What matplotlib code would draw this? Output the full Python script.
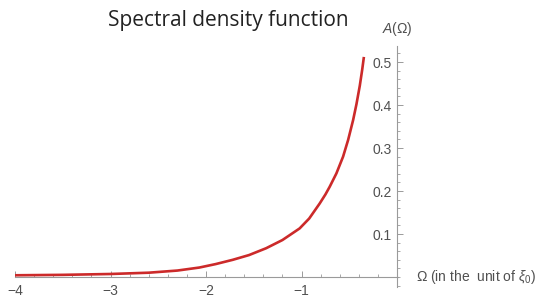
import matplotlib
matplotlib.use('Agg')
import matplotlib.pyplot as plt
from matplotlib.ticker import MultipleLocator

# values
omega = [-4.0, -3.5, -3.0, -2.6, -2.3, -2.07, -1.9, -1.72, -1.55, -1.37, -1.2, -1.02,
         -0.92, -0.81, -0.75, -0.705, -0.635, -0.565, -0.512, -0.46, -0.425, -0.39,
         -0.365, -0.347]
spec = [0.004, 0.005, 0.007, 0.010, 0.015, 0.022, 0.030, 0.040, 0.051, 0.067, 0.086, 0.113,
        0.136, 0.171, 0.192, 0.210, 0.241, 0.280, 0.319, 0.365, 0.402, 0.445,
        0.482, 0.512]

x_ticks = [-4, -3, -2, -1]
y_ticks = [0.1, 0.2, 0.3, 0.4, 0.5]

plt.rcParams['font.family'] = ['Liberation Sans', 'DejaVu Sans']
plt.rcParams['mathtext.fontset'] = 'custom'
plt.rcParams['mathtext.rm'] = 'Liberation Sans'
plt.rcParams['mathtext.it'] = 'Liberation Sans:italic'

fig = plt.figure(figsize=(5.48, 2.95), dpi=100)
ax = fig.add_axes([0.0274, 0.0275, 0.698, 0.816])

ax.plot(omega, spec, color='#cc2a2a', lw=1.9, solid_capstyle='butt',
        solid_joinstyle='round')

ax.set_xlim(-4, 0.005)
ax.set_ylim(-0.023, 0.537)

axc = '#9a9a9a'
for s in ['top', 'right']:
    ax.spines[s].set_visible(False)
ax.spines['left'].set_position(('data', 0))
ax.spines['bottom'].set_position(('data', 0))
ax.spines['left'].set_color(axc)
ax.spines['bottom'].set_color(axc)
ax.spines['left'].set_linewidth(0.8)
ax.spines['bottom'].set_linewidth(0.8)

ax.set_xticks(x_ticks)
ax.set_yticks(y_ticks)
ax.set_yticklabels(['%.1f' % v for v in y_ticks])
ax.xaxis.set_minor_locator(MultipleLocator(0.2))
ax.yaxis.set_minor_locator(MultipleLocator(0.02))
ax.tick_params(which='major', direction='in', length=4.5, width=0.7, color=axc,
               labelsize=10, labelcolor='#505050')
ax.tick_params(which='minor', direction='in', length=2.5, width=0.6, color=axc)
ax.tick_params(axis='x', pad=5)
ax.tick_params(axis='y', pad=4)
ax.patch.set_alpha(0)

fig.text(0.416, 0.93, 'Spectral density function', fontsize=15, family='Open Sans',
         color='#222222', ha='center', va='center')
fig.text(0.697, 0.903, '$A$(\u03a9)', fontsize=10, color='#505050', ha='left', va='center')
fig.text(0.759, 0.061, '\u03a9 (in the  unit of $\\xi_0$)', fontsize=10, color='#505050',
         ha='left', va='center')

fig.savefig('out.png', dpi=100)
